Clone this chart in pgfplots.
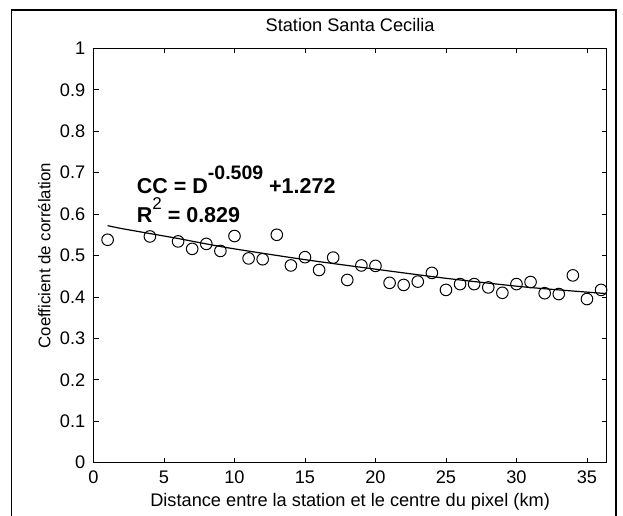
\documentclass[border=0pt]{standalone}
\usepackage{fontspec}
\setmainfont{Liberation Sans}
\usepackage{pgfplots}
\pgfplotsset{compat=1.18}

\pgfplotstableread{
d    cc
1    0.538
4    0.546
6    0.534
7    0.516
8    0.528
9    0.511
10   0.547
11   0.493
12   0.491
13   0.550
14   0.476
15   0.496
16   0.465
17   0.495
18   0.441
19   0.476
20   0.475
21   0.434
22   0.429
23   0.437
24   0.458
25   0.417
26   0.431
27   0.431
28   0.423
29   0.410
30   0.431
31   0.436
32   0.409
33   0.407
34   0.452
35   0.395
36   0.417
}\points

\pgfplotstableread{
d    fit
1    0.572
2    0.565
4    0.553
6    0.541
8    0.528
10   0.516
15   0.490
20   0.467
25   0.445
30   0.426
33   0.417
36.4 0.408
}\fitline

\begin{document}
\begin{tikzpicture}[x=1pt,y=1pt]
% page = whole figure, 623 x 515
\useasboundingbox (-93.5,-52.3) rectangle (529.5,462.7);
% outer figure frame
\draw[line width=1.2pt] (-81.8,-60) -- (-81.8,452.7) -- (522.5,452.7) -- (522.5,-60);

\begin{axis}[
  at={(0,0)}, anchor=south west,
  scale only axis, width=513.2pt, height=414.4pt,
  xmin=0, xmax=36.4, ymin=0, ymax=1,
  xtick={0,5,10,15,20,25,30,35},
  ytick={0,0.1,0.2,0.3,0.4,0.5,0.6,0.7,0.8,0.9,1},
  tick align=inside, tick pos=both,
  major tick length=5pt,
  axis line style={line width=1pt},
  every tick/.style={black, line width=0.8pt},
  font=\fontsize{18.2}{20}\selectfont,
  /pgf/number format/assume math mode=true,
  x tick label style={inner sep=0pt, anchor=north, yshift=-8pt},
  y tick label style={inner sep=0pt, anchor=east, xshift=-8pt},
  title={Station Santa Cecilia},
  title style={at={(axis description cs:0.5,1)}, anchor=base, yshift=10.5pt, inner sep=0pt},
  xlabel={Distance entre la station et le centre du pixel (km)},
  xlabel style={at={(axis description cs:0.5,0)}, anchor=base, yshift=-44pt, inner sep=0pt},
  clip=false,
]
\addplot[black, line width=1.2pt, smooth, no marks] table[x=d, y=fit] {\fitline};
\addplot[only marks, mark=o, mark size=5.8pt, mark options={line width=1pt, black}] table[x=d, y=cc] {\points};

% y label, placed by hand
\node[rotate=90, anchor=base, inner sep=0pt, font=\fontsize{16.8}{18}\selectfont]
  at (axis description cs:-0.0838,0.5) {Coefficient de corrélation};

\node[anchor=base west, inner sep=0pt, font=\fontsize{21.5}{23}\selectfont\bfseries]
  at (axis cs:3.06,0.650) {CC = D\raisebox{14pt}{\fontsize{19.5}{20}\selectfont -0.509} +1.272};
\node[anchor=base west, inner sep=0pt, font=\fontsize{21.5}{23}\selectfont\bfseries]
  at (axis cs:3.06,0.579) {R\raisebox{13pt}{\fontsize{17}{18}\selectfont\mdseries 2} = 0.829};
\end{axis}
\end{tikzpicture}
\end{document}
